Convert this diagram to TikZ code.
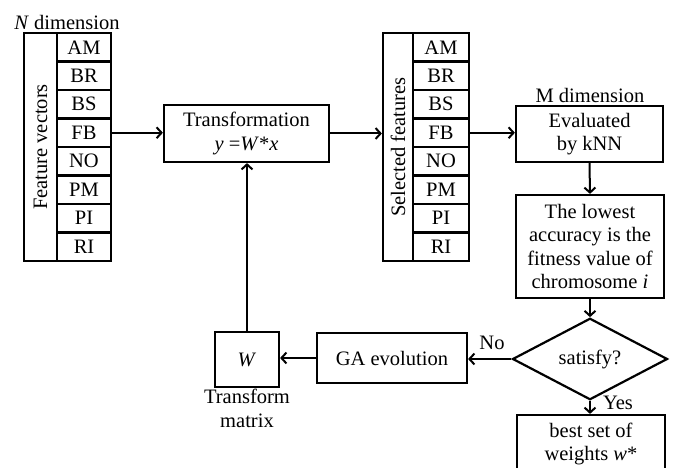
\documentclass[tikz,border=0pt]{standalone}
\usepackage{fontspec}
\setmainfont{Liberation Serif}
\usetikzlibrary{shapes.geometric,arrows.meta}
\begin{document}
\begin{tikzpicture}[x=1pt,y=-1pt,
  every node/.style={font=\fontsize{20.5}{23.5}\selectfont},
  bx/.style={draw,line width=2.2pt,inner sep=0pt,align=center},
  cell/.style={bx,minimum height=28.5pt},
  arr/.style={line width=2pt,-{Straight Barb[length=5pt,width=11pt,line width=2pt]}},
  lbl/.style={inner sep=0pt}]
\useasboundingbox (0,0) rectangle (675,468);
% Feature vectors
\node[lbl] (ndim) at (67,22) {\textit{N} dimension};
\node[bx,minimum width=87pt,minimum height=228pt] (fv) at (67.5,147) {};
\node[bx,rotate=90,minimum width=228pt,minimum height=33pt] (fvl) at (40.5,147) {Feature vectors};
\foreach \t [count=\i] in {AM,BR,BS,FB,NO,PM,PI,RI}
  \node[cell,minimum width=54pt] (f\i) at (84,{33+28.5*(\i-0.5)}) {\t};
% Selected features
\node[bx,minimum width=86pt,minimum height=228pt] (sf) at (426,147) {};
\node[bx,rotate=90,minimum width=228pt,minimum height=30pt] (sfl) at (398,147) {Selected features};
\foreach \t [count=\i] in {AM,BR,BS,FB,NO,PM,PI,RI}
  \node[cell,minimum width=56pt] (s\i) at (441,{33+28.5*(\i-0.5)}) {\t};
% Transformation
\node[bx,minimum width=165pt,minimum height=57pt] (tr) at (246.5,133.5) {Transformation\\\textit{y} =\textit{W}*\textit{x}};
% Evaluated
\node[lbl] (mdim) at (590,95) {M dimension};
\node[bx,minimum width=147pt,minimum height=56pt] (ev) at (589.5,134) {Evaluated\\by kNN};
\node[bx,minimum width=148pt,minimum height=103pt] (lo) at (590,246.5) {The lowest\\accuracy is the\\fitness value of\\chromosome \textit{i}};
\node[draw,line width=2.2pt,diamond,minimum width=155pt,minimum height=61pt,inner sep=0pt] (di) at (590,359) {satisfy?};
\node[bx,minimum width=150pt,minimum height=50pt] (ga) at (392,358) {GA evolution};
\node[bx,minimum width=64pt,minimum height=55pt] (w) at (247,359.5) {\textit{W}};
\node[lbl,align=center,anchor=north] (tm) at (247,389) {Transform\\matrix};
\node[bx,minimum width=148pt,minimum height=58pt] (best) at (591,444) {best set of\\weights \textit{w}*};
\node[lbl] (no) at (492,343) {No};
\node[lbl] (yes) at (618,403) {Yes};
% connectors
\draw[arr] (f4.east) -- (f4.east -| tr.west);
\draw[arr] (tr.east) -- (tr.east -| sf.west);
\draw[arr] (s4.east) -- (s4.east -| ev.west);
\draw[arr] (ev.south) -- (lo.north);
\draw[arr] (lo.south) -- (di.north);
\draw[arr] (di.west) -- (ga.east |- di.west);
\draw[arr] (ga.west) -- (w.east |- ga.west);
\draw[arr] (w.north) -- (w.north |- tr.south);
\draw[arr] (di.south) -- (di.south |- best.north);
\end{tikzpicture}
\end{document}
